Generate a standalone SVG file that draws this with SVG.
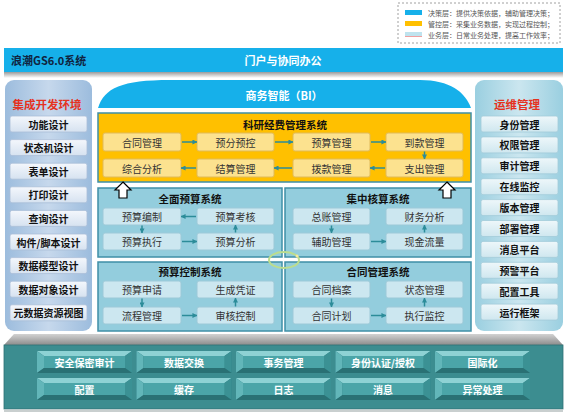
<svg xmlns="http://www.w3.org/2000/svg" width="567" height="415" viewBox="0 0 567 415">
<defs>
<linearGradient id="lpg" x1="0" y1="0" x2="1" y2="0"><stop offset="0" stop-color="#9CBCDD"/><stop offset="0.5" stop-color="#C6D8EC"/><stop offset="1" stop-color="#9CBCDD"/></linearGradient>
<linearGradient id="rpg" x1="0" y1="0" x2="1" y2="0"><stop offset="0" stop-color="#9ACFE0"/><stop offset="0.5" stop-color="#CBE6EF"/><stop offset="1" stop-color="#9ACFE0"/></linearGradient>
<linearGradient id="lbg" x1="0" y1="0" x2="0" y2="1"><stop offset="0" stop-color="#F4F7FC"/><stop offset="1" stop-color="#D6E2F0"/></linearGradient>
<linearGradient id="rbg" x1="0" y1="0" x2="0" y2="1"><stop offset="0" stop-color="#EEF7FA"/><stop offset="1" stop-color="#CFE7EF"/></linearGradient>
<linearGradient id="shd" x1="0" y1="0" x2="0" y2="1"><stop offset="0" stop-color="#9A9A9A"/><stop offset="1" stop-color="#FFFFFF"/></linearGradient>
<linearGradient id="ptop" x1="0" y1="0" x2="0" y2="1"><stop offset="0" stop-color="#D2D2D2"/><stop offset="1" stop-color="#8C8C8C"/></linearGradient>
<marker id="ah" viewBox="0 0 6 6" refX="5.5" refY="3" markerWidth="5" markerHeight="5" orient="auto" markerUnits="userSpaceOnUse"><path d="M0,0 L6,3 L0,6 Z" fill="#2C8C99"/></marker>
<g id="btn">
<rect x="0" y="0" width="95" height="22" fill="#2E7F83"/>
<polygon points="0,0 95,0 88,5 7,5" fill="#8ED2D4"/>
<polygon points="0,0 7,5 7,17 0,22" fill="#62B6B9"/>
<polygon points="95,0 88,5 88,17 95,22" fill="#3B9194"/>
<polygon points="0,22 7,17 88,17 95,22" fill="#2A7174"/>
<rect x="7" y="5" width="81" height="12" fill="#4BA5A8"/>
</g>
</defs>
<style>
text{font-family:"Noto Sans CJK SC","Noto Sans",sans-serif;dominant-baseline:central}
.lg{font-size:7px;fill:#555}
.wt{fill:#fff;font-weight:bold;font-size:11px;text-anchor:middle}
.rt{fill:#E5321E;font-weight:bold;font-size:11.5px;text-anchor:middle}
.lb{fill:url(#lbg);stroke:#A9BED8;stroke-width:0.8}
.rb{fill:url(#rbg);stroke:#A2CCD9;stroke-width:0.8}
.st{font-size:10px;font-weight:bold;fill:#111;text-anchor:middle}
.ob{fill:#FFC000;stroke:#3E8FA6;stroke-width:1.5}
.oi{fill:#FCE28F;stroke:#E0BA58;stroke-width:1}
.mb{fill:#93CDDD;stroke:#3F8FA7;stroke-width:1.5}
.mi{fill:#CCE7F0;stroke:#9CC9D8;stroke-width:1}
.it{font-size:10px;fill:#333;text-anchor:middle}
.tt{font-size:10.5px;font-weight:bold;fill:#111;text-anchor:middle}
.ar{stroke:#2C8C99;stroke-width:1.5;fill:none;marker-end:url(#ah)}
.bt{fill:#fff;font-weight:bold;font-size:10px;text-anchor:middle}
.ha{fill:#fff;stroke:#000;stroke-width:1.2}
</style>
<rect width="567" height="415" fill="#fff"/>

<g id="legend">
<rect x="398" y="3" width="162" height="40" fill="none" stroke="#A0A0A0" stroke-dasharray="2,2"/>
<rect x="405" y="10" width="17" height="5" fill="#16B0EA"/>
<rect x="405" y="21" width="17" height="5" fill="#FFC000"/>
<rect x="405" y="32" width="17" height="4" fill="#BFE3EE"/>
<rect x="405" y="36" width="17" height="1" fill="#EFA0A0"/>
<text class="lg" x="428" y="12.5">决策层：提供决策依据，辅助管理决策；</text>
<text class="lg" x="428" y="23.5">管控层：采集业务数据，实现过程控制；</text>
<text class="lg" x="428" y="34.5">业务层：日常业务处理，提高工作效率；</text>
</g>

<g id="topbar">
<rect x="4" y="72" width="559" height="6" fill="url(#shd)"/>
<rect x="4" y="48" width="559" height="24" fill="#16B0EA"/>
<text x="11" y="60" style="font-size:11px;font-weight:bold;fill:#10243F">浪潮GS6.0系统</text>
<text class="wt" x="283" y="60">门户与协同办公</text>
</g>

<g id="bi">
<path d="M98,108 C104,88 122,80 170,80 L420,80 C450,80 465,92 471,108 Z" fill="#16B0EA"/>
<text class="wt" x="284" y="95">商务智能（BI）</text>
</g>

<g id="left-panel">
<rect x="5" y="80" width="87" height="251" rx="9" fill="url(#lpg)"/>
<text class="rt" x="47" y="104">集成开发环境</text>
<rect class="lb" x="10" y="116" width="77" height="16" rx="2"/><text class="st" x="48.5" y="124">功能设计</text>
<rect class="lb" x="10" y="139.6" width="77" height="16" rx="2"/><text class="st" x="48.5" y="147.6">状态机设计</text>
<rect class="lb" x="10" y="163.2" width="77" height="16" rx="2"/><text class="st" x="48.5" y="171.2">表单设计</text>
<rect class="lb" x="10" y="186.8" width="77" height="16" rx="2"/><text class="st" x="48.5" y="194.8">打印设计</text>
<rect class="lb" x="10" y="210.4" width="77" height="16" rx="2"/><text class="st" x="48.5" y="218.4">查询设计</text>
<rect class="lb" x="10" y="234" width="77" height="16" rx="2"/><text class="st" x="48.5" y="242">构件/脚本设计</text>
<rect class="lb" x="10" y="257.6" width="77" height="16" rx="2"/><text class="st" x="48.5" y="265.6">数据模型设计</text>
<rect class="lb" x="10" y="281.2" width="77" height="16" rx="2"/><text class="st" x="48.5" y="289.2">数据对象设计</text>
<rect class="lb" x="10" y="304.8" width="77" height="16" rx="2"/><text class="st" x="48.5" y="312.8">元数据资源视图</text>
</g>

<g id="right-panel">
<rect x="475" y="80" width="88" height="251" rx="9" fill="url(#rpg)"/>
<text class="rt" x="517" y="104">运维管理</text>
<rect class="rb" x="481" y="116" width="77" height="16" rx="2"/><text class="st" x="519.5" y="124">身份管理</text>
<rect class="rb" x="481" y="136.9" width="77" height="16" rx="2"/><text class="st" x="519.5" y="144.9">权限管理</text>
<rect class="rb" x="481" y="157.8" width="77" height="16" rx="2"/><text class="st" x="519.5" y="165.8">审计管理</text>
<rect class="rb" x="481" y="178.7" width="77" height="16" rx="2"/><text class="st" x="519.5" y="186.7">在线监控</text>
<rect class="rb" x="481" y="199.6" width="77" height="16" rx="2"/><text class="st" x="519.5" y="207.6">版本管理</text>
<rect class="rb" x="481" y="220.5" width="77" height="16" rx="2"/><text class="st" x="519.5" y="228.5">部署管理</text>
<rect class="rb" x="481" y="241.4" width="77" height="16" rx="2"/><text class="st" x="519.5" y="249.4">消息平台</text>
<rect class="rb" x="481" y="262.3" width="77" height="16" rx="2"/><text class="st" x="519.5" y="270.3">预警平台</text>
<rect class="rb" x="481" y="283.2" width="77" height="16" rx="2"/><text class="st" x="519.5" y="291.2">配置工具</text>
<rect class="rb" x="481" y="304.1" width="77" height="16" rx="2"/><text class="st" x="519.5" y="312.1">运行框架</text>
</g>

<g id="keyan">
<rect class="ob" x="98" y="113" width="373" height="69"/>
<text class="tt" x="285" y="124">科研经费管理系统</text>
<rect class="oi" x="103" y="133" width="78" height="18" rx="2"/><text class="it" x="142" y="142">合同管理</text>
<rect class="oi" x="197" y="133" width="77" height="18" rx="2"/><text class="it" x="235.5" y="142">预分预控</text>
<rect class="oi" x="293" y="133" width="77" height="18" rx="2"/><text class="it" x="331.5" y="142">预算管理</text>
<rect class="oi" x="386" y="133" width="77" height="18" rx="2"/><text class="it" x="424.5" y="142">到款管理</text>
<rect class="oi" x="103" y="159" width="78" height="18" rx="2"/><text class="it" x="142" y="168">综合分析</text>
<rect class="oi" x="197" y="159" width="77" height="18" rx="2"/><text class="it" x="235.5" y="168">结算管理</text>
<rect class="oi" x="293" y="159" width="77" height="18" rx="2"/><text class="it" x="331.5" y="168">拨款管理</text>
<rect class="oi" x="386" y="159" width="77" height="18" rx="2"/><text class="it" x="424.5" y="168">支出管理</text>
</g>

<g id="quanmian">
<rect class="mb" x="98" y="188" width="184" height="69"/>
<text class="tt" x="190" y="198">全面预算系统</text>
<rect class="mi" x="103" y="208" width="78" height="17" rx="2"/><text class="it" x="142" y="216.5">预算编制</text>
<rect class="mi" x="197" y="208" width="77" height="17" rx="2"/><text class="it" x="235.5" y="216.5">预算考核</text>
<rect class="mi" x="103" y="233" width="78" height="17" rx="2"/><text class="it" x="142" y="241.5">预算执行</text>
<rect class="mi" x="197" y="233" width="77" height="17" rx="2"/><text class="it" x="235.5" y="241.5">预算分析</text>
</g>

<g id="jizhong">
<rect class="mb" x="285" y="188" width="186" height="69"/>
<text class="tt" x="378" y="198">集中核算系统</text>
<rect class="mi" x="293" y="208" width="77" height="17" rx="2"/><text class="it" x="331.5" y="216.5">总账管理</text>
<rect class="mi" x="386" y="208" width="77" height="17" rx="2"/><text class="it" x="424.5" y="216.5">财务分析</text>
<rect class="mi" x="293" y="233" width="77" height="17" rx="2"/><text class="it" x="331.5" y="241.5">辅助管理</text>
<rect class="mi" x="386" y="233" width="77" height="17" rx="2"/><text class="it" x="424.5" y="241.5">现金流量</text>
</g>

<g id="yusuankongzhi">
<rect class="mb" x="98" y="262" width="184" height="69"/>
<text class="tt" x="190" y="271">预算控制系统</text>
<rect class="mi" x="103" y="281" width="78" height="17" rx="2"/><text class="it" x="142" y="289.5">预算申请</text>
<rect class="mi" x="197" y="281" width="77" height="17" rx="2"/><text class="it" x="235.5" y="289.5">生成凭证</text>
<rect class="mi" x="103" y="307" width="78" height="17" rx="2"/><text class="it" x="142" y="315.5">流程管理</text>
<rect class="mi" x="197" y="307" width="77" height="17" rx="2"/><text class="it" x="235.5" y="315.5">审核控制</text>
</g>

<g id="hetong">
<rect class="mb" x="285" y="262" width="186" height="69"/>
<text class="tt" x="378" y="271">合同管理系统</text>
<rect class="mi" x="293" y="281" width="77" height="17" rx="2"/><text class="it" x="331.5" y="289.5">合同档案</text>
<rect class="mi" x="386" y="281" width="77" height="17" rx="2"/><text class="it" x="424.5" y="289.5">状态管理</text>
<rect class="mi" x="293" y="307" width="77" height="17" rx="2"/><text class="it" x="331.5" y="315.5">合同计划</text>
<rect class="mi" x="386" y="307" width="77" height="17" rx="2"/><text class="it" x="424.5" y="315.5">执行监控</text>
</g>

<g id="connectors">
<line class="ar" x1="182" y1="142" x2="197" y2="142"/>
<line class="ar" x1="275" y1="142" x2="293" y2="142"/>
<line class="ar" x1="371" y1="142" x2="386" y2="142"/>
<line class="ar" x1="424.5" y1="151.5" x2="424.5" y2="159"/>
<line class="ar" x1="385" y1="168" x2="370" y2="168"/>
<line class="ar" x1="292" y1="168" x2="274" y2="168"/>
<line class="ar" x1="196" y1="168" x2="181" y2="168"/>

<line class="ar" x1="196" y1="216.5" x2="181" y2="216.5"/>
<line class="ar" x1="142" y1="225.5" x2="142" y2="233"/>
<line class="ar" x1="182" y1="241.5" x2="197" y2="241.5"/>
<line class="ar" x1="235.5" y1="232.5" x2="235.5" y2="225"/>

<line class="ar" x1="331.5" y1="225.5" x2="331.5" y2="233"/>
<line class="ar" x1="371" y1="241.5" x2="386" y2="241.5"/>
<line class="ar" x1="424.5" y1="232.5" x2="424.5" y2="225"/>

<line class="ar" x1="142" y1="298.5" x2="142" y2="307"/>
<line class="ar" x1="182" y1="315.5" x2="197" y2="315.5"/>
<line class="ar" x1="235.5" y1="306.5" x2="235.5" y2="298"/>

<line class="ar" x1="331.5" y1="298.5" x2="331.5" y2="307"/>
<line class="ar" x1="371" y1="315.5" x2="386" y2="315.5"/>
<line class="ar" x1="424.5" y1="306.5" x2="424.5" y2="298"/>

<path class="ha" d="M123,182 L131,190 L127,190 L127,198 L119,198 L119,190 L115,190 Z"/>
<path class="ha" d="M447,182 L455,190 L451,190 L451,198 L443,198 L443,190 L439,190 Z"/>
<ellipse cx="284" cy="260" rx="15" ry="8" fill="none" stroke="#BCDD8E" stroke-width="2"/>
<circle cx="297" cy="256" r="1.5" fill="#F6E89A"/>
</g>

<g id="platform">
<polygon points="14,334 553,334 563,345 4,345" fill="url(#ptop)"/>
<rect x="4" y="345" width="559" height="64" fill="#3C8D90" stroke="#2E7275" stroke-width="0.8"/>
<rect x="4" y="409.5" width="559" height="2.5" fill="#C9CFCF"/>
<use href="#btn" x="37" y="351"/><text class="bt" x="84.5" y="362">安全保密审计</text>
<use href="#btn" x="136.5" y="351"/><text class="bt" x="184" y="362">数据交换</text>
<use href="#btn" x="236" y="351"/><text class="bt" x="283.5" y="362">事务管理</text>
<use href="#btn" x="335.5" y="351"/><text class="bt" x="383" y="362">身份认证/授权</text>
<use href="#btn" x="435" y="351"/><text class="bt" x="482.5" y="362">国际化</text>
<use href="#btn" x="37" y="378"/><text class="bt" x="84.5" y="389">配置</text>
<use href="#btn" x="136.5" y="378"/><text class="bt" x="184" y="389">缓存</text>
<use href="#btn" x="236" y="378"/><text class="bt" x="283.5" y="389">日志</text>
<use href="#btn" x="335.5" y="378"/><text class="bt" x="383" y="389">消息</text>
<use href="#btn" x="435" y="378"/><text class="bt" x="482.5" y="389">异常处理</text>
</g>
</svg>
